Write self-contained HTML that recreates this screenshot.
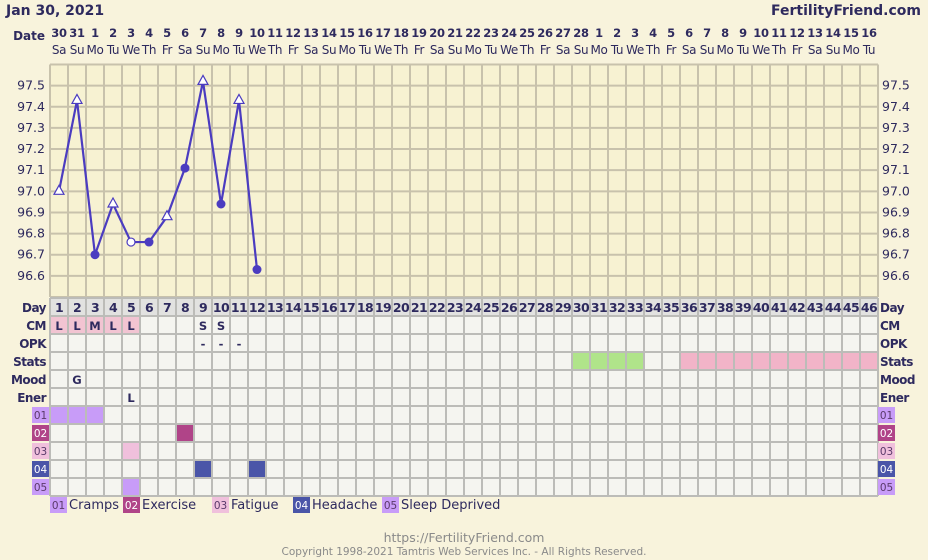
<!DOCTYPE html>
<html><head><meta charset="utf-8"><style>
body{margin:0;background:#f8f3dc;font-family:"DejaVu Sans","Liberation Sans",sans-serif;}
svg{display:block}
</style></head><body>
<svg id="c" width="928" height="560" xmlns="http://www.w3.org/2000/svg">
<rect width="928" height="560" fill="#f8f3dc"/>
<text x="6" y="15" font-size="14" font-weight="bold" fill="#2e2a5e">Jan 30, 2021</text>
<text x="921" y="15" font-size="14" font-weight="bold" fill="#2e2a5e" text-anchor="end">FertilityFriend.com</text>
<text x="45" y="40" font-size="12" font-weight="bold" fill="#2e2a5e" text-anchor="end">Date</text>
<g id="g"></g>
<text x="464" y="542" font-size="12.5" fill="#8a8a8a" text-anchor="middle">https://FertilityFriend.com</text>
<text x="464" y="555" font-size="10.5" fill="#8a8a8a" text-anchor="middle">Copyright 1998-2021 Tamtris Web Services Inc. - All Rights Reserved.</text>
</svg>
<script>
const dateLabels=[30,31,1,2,3,4,5,6,7,8,9,10,11,12,13,14,15,16,17,18,19,20,21,22,23,24,25,26,27,28,1,2,3,4,5,6,7,8,9,10,11,12,13,14,15,16];
const weekdays=["Sa","Su","Mo","Tu","We","Th","Fr"];
const tempTicks=[97.5,97.4,97.3,97.2,97.1,97.0,96.9,96.8,96.7,96.6];
const tempDays=[1,2,3,4,5,6,7,8,9,10,11,12];
const tempValues=[97.0,97.43,96.7,96.94,96.76,96.76,96.88,97.11,97.52,96.94,97.43,96.63];
const tempMarkers=["otri","otri","dot","otri","ocirc","dot","otri","dot","otri","dot","otri","dot"];
const cmValues={1:"L",2:"L",3:"M",4:"L",5:"L",9:"S",10:"S"};
const opkValues={9:"-",10:"-",11:"-"};
const moodValues={2:"G"};
const enerValues={5:"L"};
const statsGreen=[30,31,32,33];
const statsPink=[36,37,38,39,40,41,42,43,44,45,46];
const symptomNames=["Cramps","Exercise","Fatigue","Headache","Sleep Deprived"];
const symptomColors=["#c89cf8","#b04488","#f0c0dc","#4a55a8","#c89cf8"];
const symptomDays=[[1,2,3],[8],[5],[9,12],[5]];

const NS="http://www.w3.org/2000/svg",G=document.getElementById('g');
const X0=50,CW=18,N=46,PT=64.5,PB=297,T0=97.6,T1=96.5;
const xc=d=>X0+(d-0.5)*CW;
const y=t=>PT+(T0-t)/(T0-T1)*(PB-PT);
function el(tag,a,p){const e=document.createElementNS(NS,tag);for(const k in a)e.setAttribute(k,a[k]);(p||G).appendChild(e);return e;}
function tx(s,a){const e=el('text',a);e.textContent=s;return e;}

dateLabels.forEach((d,i)=>{
 let t=tx(d,{x:xc(i+1),y:37,'font-size':11.5,'font-weight':'bold',fill:'#2e2a5e','text-anchor':'middle','letter-spacing':-0.3});
 
 
 let w=tx(weekdays[i%7],{x:xc(i+1),y:54,'font-size':12,fill:'#2e2a5e','text-anchor':'middle','letter-spacing':-0.4});
 
 
});
const pa=el('rect',{x:X0,y:PT,width:N*CW,height:PB-PT,fill:'#f7f2d2'});


for(let i=0;i<=N;i++)el('line',{x1:X0+i*CW,x2:X0+i*CW,y1:PT,y2:PB,stroke:'#c8c2ac','stroke-width':2});
for(let t=T0;t>T1-0.001;t-=0.1)el('line',{x1:X0,x2:X0+N*CW,y1:y(t),y2:y(t),stroke:'#c8c2ac','stroke-width':2});
tempTicks.forEach(t=>{
 let a=tx(t.toFixed(1),{x:45,y:y(t)+4,'font-size':12.5,fill:'#2e2a5e','text-anchor':'end'});
 
 
 let b=tx(t.toFixed(1),{x:882,y:y(t)+4,'font-size':12.5,fill:'#2e2a5e'});
 
 
});
const line=el('polyline',{points:tempDays.map((d,i)=>xc(d)+','+y(tempValues[i])).join(' '),fill:'none',stroke:'#4b3cc0','stroke-width':2.2});


tempDays.forEach((d,i)=>{
 const cx=xc(d),cy=y(tempValues[i]),m=tempMarkers[i];let e;
 if(m==='dot')e=el('circle',{cx,cy,r:4.5,fill:'#4b3cc0'});
 else if(m==='ocirc')e=el('circle',{cx,cy,r:4,fill:'#fff',stroke:'#4b3cc0','stroke-width':1.2});
 else e=el('polygon',{points:`${cx},${cy-6} ${cx-5},${cy+3} ${cx+5},${cy+3}`,fill:'#fff',stroke:'#4b3cc0','stroke-width':1.2});
 
 
});
const RT=298,RH=18;
const rowLabels=["Day","CM","OPK","Stats","Mood","Ener","01","02","03","04","05"];
const lg=el('rect',{x:X0,y:RT,width:N*CW,height:RH*11,fill:'#f5f5f0'});


el('rect',{x:X0,y:RT,width:N*CW,height:RH,fill:'#e2e2e0'});
for(const d in cmValues)el('rect',{x:X0+(d-1)*CW,y:RT+RH,width:CW,height:RH,fill:(d<=5?'#f2c4d2':'#f5f5f0')});
statsGreen.forEach(d=>el('rect',{x:X0+(d-1)*CW,y:RT+3*RH,width:CW,height:RH,fill:'#b0e48a'}));
statsPink.forEach(d=>el('rect',{x:X0+(d-1)*CW,y:RT+3*RH,width:CW,height:RH,fill:'#f2b4c8'}));
symptomDays.forEach((ds,s)=>ds.forEach(d=>{
 const r=el('rect',{x:X0+(d-1)*CW+1,y:RT+(6+s)*RH+1,width:CW-2,height:RH-2,fill:symptomColors[s]});
 
 
}));
for(let i=0;i<=N;i++)el('line',{x1:X0+i*CW,x2:X0+i*CW,y1:RT,y2:RT+11*RH,stroke:'#bcbcb8','stroke-width':2});
for(let r=0;r<=11;r++)el('line',{x1:X0,x2:X0+N*CW,y1:RT+r*RH,y2:RT+r*RH,stroke:'#bcbcb8','stroke-width':2});
for(let d=1;d<=N;d++){const t=tx(d,{x:xc(d),y:RT+14,'font-size':12.5,'font-weight':'bold',fill:'#2e2a5e','text-anchor':'middle','letter-spacing':-0.6});
 
 }
function rowText(obj,row){for(const d in obj){const t=tx(obj[d],{x:xc(+d),y:RT+row*RH+14,'font-size':11.5,'font-weight':'bold',fill:'#2e2a5e','text-anchor':'middle'});
 
 }}
rowText(cmValues,1);rowText(opkValues,2);rowText(moodValues,4);rowText(enerValues,5);
rowLabels.forEach((l,r)=>{
 const yy=RT+r*RH;
 if(r<6){
  const a=tx(l,{x:46,y:yy+14,'font-size':12,'font-weight':'bold',fill:'#2e2a5e','text-anchor':'end','letter-spacing':-0.5});
  
  
  const b=tx(l,{x:880,y:yy+14,'font-size':12,'font-weight':'bold',fill:'#2e2a5e','letter-spacing':-0.5});
  
  
 }else{
  const s=r-6,c=symptomColors[s],fc=(s===1||s===3)?'#fff':'#5a3a6a';
  el('rect',{x:32,y:yy+1,width:17,height:16,fill:c});
  const a=tx(l,{x:40.5,y:yy+13,'font-size':10.5,fill:fc,'text-anchor':'middle'});
  
  
  el('rect',{x:878,y:yy+1,width:17,height:16,fill:c});
  const b=tx(l,{x:886.5,y:yy+13,'font-size':10.5,fill:fc,'text-anchor':'middle'});
  
  
 }
});
const legX=[50,123,212,293,382];
symptomNames.forEach((n,s)=>{
 const fc=(s===1||s===3)?'#fff':'#5a3a6a';
 el('rect',{x:legX[s],y:497,width:17,height:16,fill:symptomColors[s]});
 tx('0'+(s+1),{x:legX[s]+8.5,y:509,'font-size':10.5,fill:fc,'text-anchor':'middle'});
 const t=tx(n,{x:legX[s]+19,y:509,'font-size':13,fill:'#2e2a5e'});
 
 
});
</script>
</body></html>
